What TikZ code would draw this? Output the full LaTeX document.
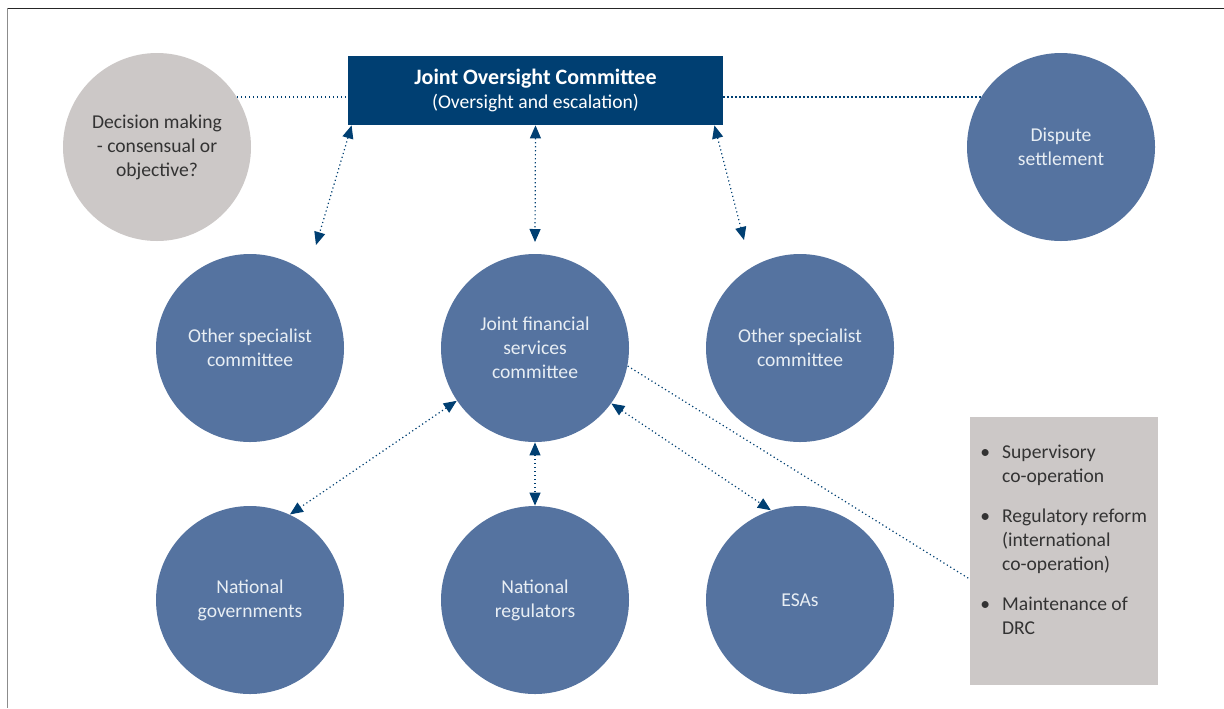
\documentclass[tikz,border=0pt]{standalone}
\usepackage{fontspec}
\setmainfont{Carlito}
\usetikzlibrary{arrows.meta,calc}
\definecolor{navy}{HTML}{003F72}
\definecolor{circblue}{HTML}{5573A0}
\definecolor{lightgrey}{HTML}{CCC8C7}
\definecolor{darktext}{HTML}{333333}
\definecolor{paletext}{HTML}{E8EEF4}

\begin{document}
\begin{tikzpicture}[x=0.5pt,y=-0.5pt,
  font=\fontsize{9.8}{12}\selectfont,
  blob/.style={circle,fill=circblue,text=paletext,minimum size=94pt,inner sep=0pt,align=center},
  greyblob/.style={blob,fill=lightgrey,text=darktext},
  link/.style={navy,line width=0.6pt,dash pattern=on 0.6pt off 1.4pt},
  arr/.style={link,{Triangle[length=6.5pt,width=5.5pt]}-{Triangle[length=6.5pt,width=5.5pt]}}]
\useasboundingbox (0,0) rectangle (1224,708);
\draw[black!85,line width=0.5pt] (7,8) -- (1224,8);
\draw[black!45,line width=0.5pt] (7,8) -- (7,708);
\node[rectangle,fill=navy,text=white,minimum width=187.5pt,minimum height=34.5pt,align=center] (joc) at (535.5,90.5) {{\fontsize{11}{12}\selectfont\bfseries Joint Oversight Committee}\\(Oversight and escalation)};
\node[greyblob] (decision) at (157,147) {Decision making\\- consensual or\\objective?};
\node[blob] (dispute) at (1061,147) {Dispute\\settlement};
\node[blob] (osc1) at (250,348) {Other specialist\\committee};
\node[blob] (jfsc) at (535,348) {Joint financial\\services\\committee};
\node[blob] (osc2) at (800,348) {Other specialist\\committee};
\node[blob] (natgov) at (250,600) {National\\governments};
\node[blob] (natreg) at (535,600) {National\\regulators};
\node[blob] (esas) at (800,600) {ESAs};
\node[rectangle,fill=lightgrey,minimum width=94pt,minimum height=134pt] (info) at (1064,551) {};
\node[anchor=north west,inner sep=0pt,text=darktext] (items) at (980,441) {%
  \begin{tabular}{@{}l@{\hspace{6pt}}l@{}}
  \textbullet & Supervisory\\
              & co-operation\\[8pt]
  \textbullet & Regulatory reform\\
              & (international\\
              & co-operation)\\[8pt]
  \textbullet & Maintenance of\\
              & DRC
  \end{tabular}};
% dotted links
\draw[link] (decision.32) -- (decision.32 -| joc.west);
\draw[link] (dispute.148 -| joc.east) -- (dispute.148);
\draw[link] (jfsc.-11) -- ([shift={(0,28)}]info.west);
% two-way arrows
\draw[arr] ([shift={(4,0)}]joc.south west) -- ([shift={(66,-103)}]osc1.center);
\draw[arr] (joc.south) -- ([shift={(0,-106)}]jfsc.center);
\draw[arr] ([shift={(-9,0)}]joc.south east) -- ([shift={(-56,-108)}]osc2.center);
\draw[arr] (jfsc.214) -- (natgov.65);
\draw[arr] (jfsc) -- (natreg);
\draw[arr] (jfsc.324) -- (esas.108);
\end{tikzpicture}
\end{document}
